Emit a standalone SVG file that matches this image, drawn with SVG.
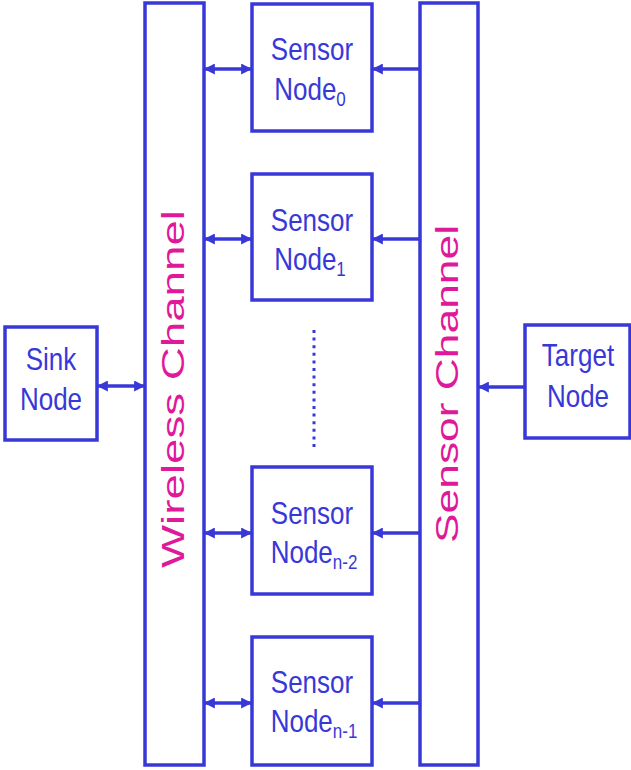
<svg xmlns="http://www.w3.org/2000/svg" width="631" height="770" viewBox="0 0 631 770">
  <style>
    .box { fill: #ffffff; stroke: #3838d8; stroke-width: 3.5; }
    .lbl { font-family: "Liberation Sans", Arial, sans-serif; font-size: 26px; fill: #3838d8; text-anchor: middle; }
    .sub { font-size: 17px; }
    .chan { font-family: "Liberation Sans", Arial, sans-serif; font-size: 31px; fill: #e0189a; text-anchor: middle; }
    .link { stroke: #3838d8; stroke-width: 3.5; fill: none; }
    .dots { stroke: #3838d8; stroke-width: 3; stroke-dasharray: 3 4.6; fill: none; }
  </style>
  <defs>
    <marker id="head" viewBox="0 0 10 10" refX="9" refY="5" markerWidth="11" markerHeight="11" markerUnits="userSpaceOnUse" orient="auto-start-reverse">
      <path d="M0,0 L10,5 L0,10 Z" fill="#3838d8"/>
    </marker>
  </defs>

  <rect width="631" height="770" fill="#ffffff"/>

  <!-- channels -->
  <g id="wireless-channel">
    <rect class="box" x="145" y="3" width="59" height="762"/>
    <text class="chan" transform="translate(184 389) rotate(-90)" textLength="358" lengthAdjust="spacingAndGlyphs">Wireless Channel</text>
  </g>
  <g id="sensor-channel">
    <rect class="box" x="420" y="3" width="58" height="762"/>
    <text class="chan" transform="translate(458 384) rotate(-90)" textLength="318" lengthAdjust="spacingAndGlyphs">Sensor Channel</text>
  </g>

  <!-- sensor nodes -->
  <g id="sensor-node-0">
    <rect class="box" x="252" y="4" width="120" height="127"/>
    <text class="lbl" transform="translate(312 60) scale(1 1.22)">Sensor</text>
    <text class="lbl" transform="translate(310 100) scale(1 1.22)">Node<tspan class="sub" dy="5">0</tspan></text>
  </g>
  <g id="sensor-node-1">
    <rect class="box" x="252" y="174" width="120" height="126"/>
    <text class="lbl" transform="translate(312 231) scale(1 1.22)">Sensor</text>
    <text class="lbl" transform="translate(310 270) scale(1 1.22)">Node<tspan class="sub" dy="5">1</tspan></text>
  </g>
  <g id="sensor-node-n-2">
    <rect class="box" x="252" y="467" width="120" height="127"/>
    <text class="lbl" transform="translate(312 524) scale(1 1.22)">Sensor</text>
    <text class="lbl" transform="translate(314 563) scale(1 1.22)">Node<tspan class="sub" dy="5">n-2</tspan></text>
  </g>
  <g id="sensor-node-n-1">
    <rect class="box" x="252" y="637" width="120" height="128"/>
    <text class="lbl" transform="translate(312 693) scale(1 1.22)">Sensor</text>
    <text class="lbl" transform="translate(314 732) scale(1 1.22)">Node<tspan class="sub" dy="5">n-1</tspan></text>
  </g>

  <!-- end nodes -->
  <g id="sink-node">
    <rect class="box" x="5" y="327" width="92" height="113"/>
    <text class="lbl" transform="translate(51 370) scale(1 1.22)">Sink</text>
    <text class="lbl" transform="translate(51 410) scale(1 1.22)">Node</text>
  </g>
  <g id="target-node">
    <rect class="box" x="525" y="325" width="105" height="113"/>
    <text class="lbl" transform="translate(578 366) scale(1 1.22)">Target</text>
    <text class="lbl" transform="translate(578 407) scale(1 1.22)">Node</text>
  </g>

  <!-- connectors -->
  <g id="connectors">
    <line class="link" x1="98" y1="386" x2="144" y2="386" marker-start="url(#head)" marker-end="url(#head)"/>
    <line class="link" x1="205" y1="69" x2="251" y2="69" marker-start="url(#head)" marker-end="url(#head)"/>
    <line class="link" x1="205" y1="239" x2="251" y2="239" marker-start="url(#head)" marker-end="url(#head)"/>
    <line class="link" x1="205" y1="533" x2="251" y2="533" marker-start="url(#head)" marker-end="url(#head)"/>
    <line class="link" x1="205" y1="703" x2="251" y2="703" marker-start="url(#head)" marker-end="url(#head)"/>
    <line class="link" x1="419" y1="69" x2="373" y2="69" marker-end="url(#head)"/>
    <line class="link" x1="419" y1="239" x2="373" y2="239" marker-end="url(#head)"/>
    <line class="link" x1="419" y1="533" x2="373" y2="533" marker-end="url(#head)"/>
    <line class="link" x1="419" y1="703" x2="373" y2="703" marker-end="url(#head)"/>
    <line class="link" x1="524" y1="387" x2="479" y2="387" marker-end="url(#head)"/>
    <line class="dots" x1="314" y1="330" x2="314" y2="447"/>
  </g>
</svg>
